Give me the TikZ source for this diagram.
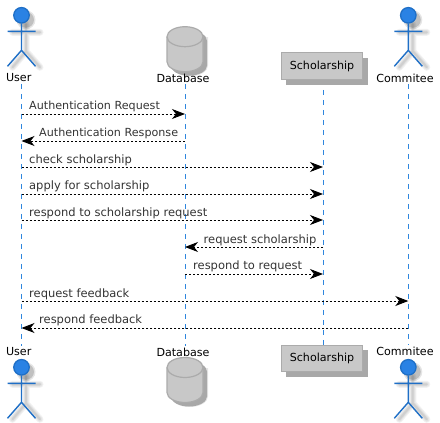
\documentclass[tikz,border=0pt]{standalone}
\usepackage{fontspec}
\setmainfont{DejaVu Sans}
\usetikzlibrary{arrows.meta,backgrounds}
\definecolor{actorblue}{HTML}{2A82E4}
\definecolor{actorline}{HTML}{1F6FC6}
\definecolor{lifeblue}{HTML}{2E86DE}
\definecolor{partfill}{HTML}{C8C8C8}
\definecolor{partline}{HTML}{ABABAB}
\definecolor{shadowgrey}{HTML}{A8A8A8}
\definecolor{msgtext}{HTML}{333333}
\tikzset{
  lifeline/.style={draw=lifeblue,line width=0.8pt,dash pattern=on 5pt off 5pt},
  partlabel/.style={font=\fontsize{11.1}{12}\selectfont,text=black,inner sep=0pt,minimum height=12pt,anchor=center},
  msgline/.style={draw=black,line width=0.9pt,dash pattern=on 2pt off 2pt,-{Stealth[length=13pt,width=10pt,inset=4pt,fill=black]}},
  msglabel/.style={font=\fontsize{11.5}{12}\selectfont,text=msgtext,inner sep=0pt,anchor=west},
  authlabel/.style={msglabel,font=\fontsize{11.15}{12}\selectfont},
  partbox/.style={draw=partline,fill=partfill,line width=1.2pt,inner sep=0pt,minimum width=81pt,minimum height=26.5pt,font=\fontsize{11.1}{12}\selectfont,text=black},
  boxshadow/.style={fill=shadowgrey,draw=none},
  actorstroke/.style={draw=actorline,line width=1.4pt},
  actorhead/.style={circle,draw=actorline,fill=actorblue,line width=1.3pt,minimum size=15.5pt,inner sep=0pt},
  softshadow/.style={draw=black,opacity=0.05,line cap=round}
}
\newcommand{\actorshape}[3]{%
  % #1 name, #2 x, #3 y of the head centre
  \begin{scope}[shift={(#2,#3)}]
    \foreach \w in {7,5,3.2,1.8}{
      \draw[softshadow,line width=\w pt] (4.5,9) -- (4.5,36) (-9,17) -- (18.5,17) (4.5,36) -- (-9,52) (4.5,36) -- (18.5,52);
    }
    \fill[black,opacity=0.1] (4.5,4.5) circle (9.5);
    \fill[black,opacity=0.16] (4.5,4.5) circle (8);
    \draw[actorstroke] (0,8) -- (0,35) (-14,16) -- (14,16) (0,35) -- (-14,51) (0,35) -- (14,51);
    \node[actorhead] (#1) at (0,0) {};
  \end{scope}}
\newcommand{\dbshape}[2]{%
  % #1 x centre, #2 y top
  \begin{scope}[shift={(#1,#2)}]
    \fill[black,opacity=0.1] (-13.5,10.5) -- (23,10.5) -- (23,39) arc[start angle=0,end angle=180,x radius=18.3,y radius=10.5] -- cycle;
    \fill[shadowgrey] (-14,14) arc[start angle=180,end angle=360,x radius=18,y radius=10] -- (22,39) arc[start angle=0,end angle=180,x radius=18,y radius=10] -- cycle;
    \draw[draw=partline,fill=partfill,line width=1.2pt] (-18,10) arc[start angle=180,end angle=360,x radius=18,y radius=10] -- (18,35) arc[start angle=0,end angle=180,x radius=18,y radius=10] -- cycle;
    \draw[draw=partline,line width=1.2pt] (-18,10) arc[start angle=180,end angle=0,x radius=18,y radius=10];
  \end{scope}}
\begin{document}
\begin{tikzpicture}[x=1pt,y=-1pt]
\useasboundingbox (0,0) rectangle (440,423);

% top participants
\actorshape{userHeadT}{21.5}{15.3}
\actorshape{comHeadT}{408.3}{15.3}
\dbshape{185}{26.7}
\coordinate (dbAxis) at (185,26.7);
\coordinate (schAxis) at (323,66);
\fill[boxshadow] (286,58) rectangle (368,85);
\node[partbox] (schT) at (322,66) {Scholarship};
\node[partlabel] (userT) at (18.7,78) {User};
\node[partlabel] (dbT) at (183,78) {Database};
\node[partlabel] (comT) at (405,78) {Commitee};

% bottom participants
\node[partlabel] (userB) at (18.7,352) {User};
\node[partlabel] (dbB) at (183,352) {Database};
\node[partlabel] (comB) at (405,351) {Commitee};
\fill[boxshadow] (286,350) rectangle (368,377);
\node[partbox] (schB) at (322,358.5) {Scholarship};
\actorshape{userHeadB}{21.5}{367.3}
\actorshape{comHeadB}{408.3}{367.3}
\dbshape{185}{357.5}

% lifelines
\begin{scope}[on background layer]
  \draw[lifeline] (userT.south -| userHeadT) -- (userB.north -| userHeadT);
  \draw[lifeline] (dbT.south -| dbAxis) -- (dbB.north -| dbAxis);
  \draw[lifeline] (schT.south -| schAxis) -- (schB.north -| schAxis);
  \draw[lifeline] (comT.south -| comHeadT) -- (comB.north -| comHeadT);
\end{scope}

% lifeline anchors of the messages
\coordinate (uA) at (21.5,114);  \coordinate (dA) at (185,114);
\coordinate (uB) at (21.5,141);  \coordinate (dB) at (185,141);
\coordinate (uC) at (21.5,167);  \coordinate (sC) at (323,167);
\coordinate (uD) at (21.5,194);  \coordinate (sD) at (323,194);
\coordinate (uE) at (21.5,220);  \coordinate (sE) at (323,220);
\coordinate (dF) at (185,247);   \coordinate (sF) at (323,247);
\coordinate (dG) at (185,274);   \coordinate (sG) at (323,274);
\coordinate (uH) at (21.5,301);  \coordinate (cH) at (408.3,301);
\coordinate (uI) at (21.5,328);  \coordinate (cI) at (408.3,328);

\draw[msgline] (uA) -- (dA);
\draw[msgline] (dB) -- (uB);
\draw[msgline] (uC) -- (sC);
\draw[msgline] (uD) -- (sD);
\draw[msgline] (uE) -- (sE);
\draw[msgline] (sF) -- (dF);
\draw[msgline] (dG) -- (sG);
\draw[msgline] (uH) -- (cH);
\draw[msgline] (cI) -- (uI);

\node[authlabel] (lA) at (29,106) {Authentication Request};
\node[authlabel] (lB) at (39,133) {Authentication Response};
\node[msglabel] (lC) at (29,160) {check scholarship};
\node[msglabel] (lD) at (29,186) {apply for scholarship};
\node[msglabel] (lE) at (29,213) {respond to scholarship request};
\node[msglabel] (lF) at (203.5,240) {request scholarship};
\node[msglabel] (lG) at (193,266) {respond to request};
\node[msglabel] (lH) at (29,294) {request feedback};
\node[msglabel] (lI) at (39,320) {respond feedback};
\end{tikzpicture}
\end{document}
